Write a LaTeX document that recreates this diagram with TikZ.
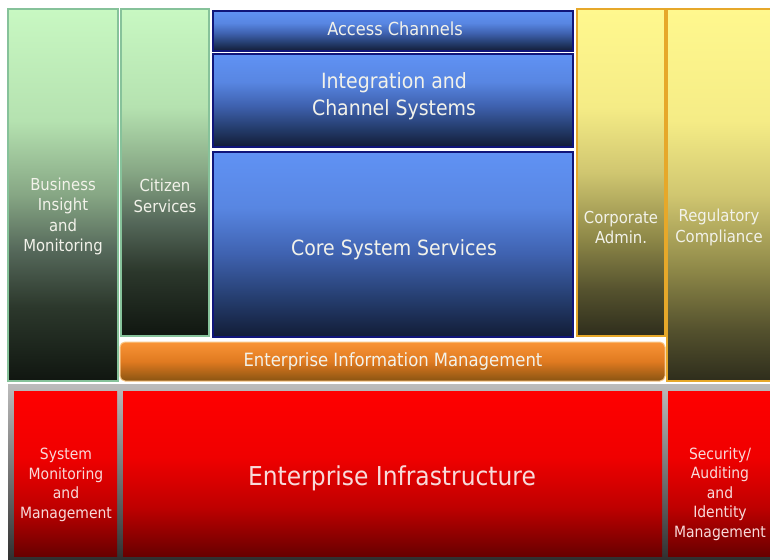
\documentclass[tikz,border=0pt]{standalone}
\usepackage{fontspec}
\setmainfont{DejaVu Sans Condensed}
\definecolor{txt}{HTML}{F2F2EA}
\definecolor{rtxt}{HTML}{F8DADA}
\definecolor{gT}{HTML}{C8F8C2}\definecolor{g1}{HTML}{B5E2B0}\definecolor{g2}{HTML}{86A684}
\definecolor{g3}{HTML}{55685A}\definecolor{g4}{HTML}{2C382C}\definecolor{gB}{HTML}{101610}
\definecolor{bT}{HTML}{6092F4}\definecolor{b1}{HTML}{5886E2}\definecolor{b2}{HTML}{3F62B0}
\definecolor{b3}{HTML}{243C6C}\definecolor{bB}{HTML}{121C36}
\definecolor{yT}{HTML}{FFF88E}\definecolor{y1}{HTML}{F5EC86}\definecolor{y2}{HTML}{D0C670}
\definecolor{y3}{HTML}{8E8848}\definecolor{y4}{HTML}{55522E}\definecolor{yB}{HTML}{2E2D1C}
\definecolor{rT}{HTML}{FF0000}\definecolor{r1}{HTML}{F00000}\definecolor{r2}{HTML}{C00000}\definecolor{rB}{HTML}{680000}
\definecolor{grT}{HTML}{BCBCBC}\definecolor{grB}{HTML}{303030}
\definecolor{oT}{HTML}{F99436}\definecolor{oM}{HTML}{E07A20}\definecolor{oB}{HTML}{8A5412}\definecolor{oline}{HTML}{F8C888}
\definecolor{gline}{HTML}{86C29A}\definecolor{bline}{HTML}{10157A}\definecolor{yline}{HTML}{E6A82A}
\pgfdeclareverticalshading{greensh}{100bp}{color(0bp)=(gB); color(25bp)=(gB); color(35bp)=(g4); color(42.5bp)=(g3); color(50bp)=(g2); color(60bp)=(g1); color(75bp)=(gT); color(100bp)=(gT)}
\pgfdeclareverticalshading{bluesh}{100bp}{color(0bp)=(bB); color(25bp)=(bB); color(35bp)=(b3); color(47.5bp)=(b2); color(60bp)=(b1); color(75bp)=(bT); color(100bp)=(bT)}
\pgfdeclareverticalshading{yellowsh}{100bp}{color(0bp)=(yB); color(25bp)=(yB); color(32bp)=(y4); color(40bp)=(y3); color(50bp)=(y2); color(60bp)=(y1); color(75bp)=(yT); color(100bp)=(yT)}
\pgfdeclareverticalshading{redsh}{100bp}{color(0bp)=(rB); color(25bp)=(rB); color(40bp)=(r2); color(55bp)=(r1); color(75bp)=(rT); color(100bp)=(rT)}
\pgfdeclareverticalshading{graysh}{100bp}{color(0bp)=(grB); color(25bp)=(grB); color(75bp)=(grT); color(100bp)=(grT)}
\pgfdeclareverticalshading{orangesh}{100bp}{color(0bp)=(oB); color(25bp)=(oB); color(50bp)=(oM); color(75bp)=(oT); color(100bp)=(oT)}
\begin{document}
\begin{tikzpicture}[x=1pt,y=-1pt,
  box/.style={rectangle, inner sep=0pt, outer sep=0pt, shade},
  greenbox/.style={box, shading=greensh, draw=gline, line width=1.5pt},
  bluebox/.style={box, shading=bluesh, draw=bline, line width=1.5pt},
  yellowbox/.style={box, shading=yellowsh, draw=yline, line width=1.5pt},
  redbox/.style={box, shading=redsh},
  orangebox/.style={box, rounded corners=5pt, shading=orangesh, draw=oline, line width=1pt},
  side/.style={text=txt, align=center, font=\fontsize{16.5}{20.5}\selectfont},
  rside/.style={text=rtxt, align=center, font=\fontsize{15.5}{19.5}\selectfont},
  big/.style={text=txt, align=center}
]
\useasboundingbox (0,0) rectangle (770,559);
\fill[white] (0,0) rectangle (770,559);
% top section
\node[greenbox, minimum width=110pt, minimum height=372pt] (bi) at (63,195) {};
\node[greenbox, minimum width=88pt, minimum height=327pt] (cs) at (165,172.5) {};
\node[bluebox, minimum width=360pt, minimum height=40pt] (ac) at (393,31) {};
\node[bluebox, minimum width=360pt, minimum height=93pt] (ic) at (393,100.5) {};
\node[bluebox, minimum width=360pt, minimum height=185pt] (core) at (393,244.5) {};
\node[yellowbox, minimum width=88pt, minimum height=327pt] (ca) at (621,172.5) {};
\node[yellowbox, minimum width=105pt, minimum height=372pt] (rc) at (719.5,195) {};
\node[orangebox, minimum width=545pt, minimum height=39pt] (eim) at (392.5,361.5) {};
% bottom section
\node[box, shading=graysh, minimum width=766pt, minimum height=175pt] (frame) at (391,471.5) {};
\node[redbox, minimum width=103pt, minimum height=165pt] (sm) at (65.5,473.5) {};
\node[redbox, minimum width=539pt, minimum height=165pt] (ei) at (392.5,473.5) {};
\node[redbox, minimum width=104pt, minimum height=165pt] (sa) at (720,473.5) {};
% texts
\node[side] (tbi) at (63,216.5) {Business\\Insight\\and\\Monitoring};
\node[side] (tcs) at (165,196) {Citizen\\Services};
\node[big, font=\fontsize{18}{22}\selectfont] (tac) at (395,29) {Access Channels};
\node[big, font=\fontsize{21}{27}\selectfont] (tic) at (394,96) {Integration and\\Channel Systems};
\node[big, font=\fontsize{21}{25}\selectfont] (tcore) at (394,250) {Core System Services};
\node[side] (tca) at (621,227.5) {Corporate\\Admin.};
\node[side] (trc) at (719,227.5) {Regulatory\\Compliance};
\node[big, font=\fontsize{18.3}{22}\selectfont] (teim) at (393,361) {Enterprise Information Management};
\node[big, font=\fontsize{26}{30}\selectfont, text=rtxt] (tei) at (392,478) {Enterprise Infrastructure};
\node[rside] (tsm) at (66,485) {System\\Monitoring\\and\\Management};
\node[rside] (tsa) at (720,494) {Security/\\Auditing\\and\\Identity\\Management};
\end{tikzpicture}
\end{document}
